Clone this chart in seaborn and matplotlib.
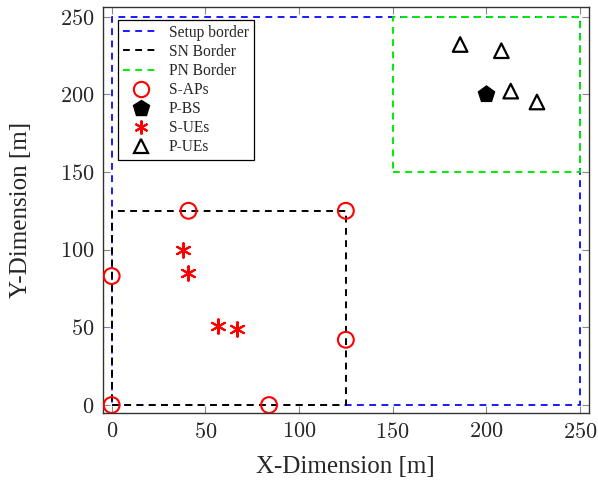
import matplotlib
matplotlib.use("Agg")
import matplotlib.pyplot as plt
import seaborn as sns
import pandas as pd
from matplotlib.lines import Line2D

sns.set_theme(style="white")
plt.rcParams['font.family'] = ['cmr10', 'DejaVu Serif']
plt.rcParams['mathtext.fontset'] = 'cm'
plt.rcParams['axes.formatter.use_mathtext'] = True

TIMES = ['Liberation Serif', 'DejaVu Serif']

# Borders (rectangle corners)
setup_x = [0, 250, 250, 0, 0]
setup_y = [0, 0, 250, 250, 0]
sn_x = [0, 125, 125, 0, 0]
sn_y = [0, 0, 125, 125, 0]
pn_x = [150, 250, 250, 150, 150]
pn_y = [150, 150, 250, 250, 150]

# Nodes
sap_x = [0, 0, 41, 125, 125, 84]
sap_y = [0, 83, 125, 125, 42, 0]
pbs_x = [200]
pbs_y = [200]
sue_x = [38, 41, 57, 67]
sue_y = [100, 85, 51, 49]
pue_x = [186, 208, 213, 227]
pue_y = [232, 228, 202, 195]

ticks = [0, 50, 100, 150, 200, 250]

DASH = (0, (3.5, 2.8))

fig = plt.figure(figsize=(5.98, 4.80), dpi=100)
ax = fig.add_axes([0.1717, 0.139, 0.8133, 0.846])

def border(xs, ys, color):
    df = pd.DataFrame({"x": xs, "y": ys})
    sns.lineplot(data=df, x="x", y="y", sort=False, estimator=None, ax=ax,
                 color=color, lw=1.4, linestyle=DASH)

border(setup_x, setup_y, "#1a1aff")
border(sn_x, sn_y, "black")
border(pn_x, pn_y, "#00ee00")

sns.scatterplot(x=sap_x, y=sap_y, ax=ax, marker="o", s=130, facecolors="none",
                edgecolor="red", linewidth=1.5, zorder=5)
sns.scatterplot(x=pbs_x, y=pbs_y, ax=ax, marker="p", s=150, color="black",
                edgecolor="black", linewidth=1, zorder=5)
sns.scatterplot(x=sue_x, y=sue_y, ax=ax, marker=(6, 2, 0), s=110, color="red",
                edgecolor="red", linewidth=1.5, zorder=5)
sns.scatterplot(x=pue_x, y=pue_y, ax=ax, marker="^", s=110, facecolors="none",
                edgecolor="black", linewidth=1.6, zorder=5)

ax.set_xlim(-4.8, 254.8)
ax.set_ylim(-5.3, 256)
ax.set_xticks(ticks)
ax.set_yticks(ticks)
ax.tick_params(direction="in", length=5, width=0.8, color="#888888",
               top=True, right=True, bottom=True, left=True, labelsize=16,
               pad=6)
for s in ax.spines.values():
    s.set_color("#333333")
    s.set_linewidth(1.0)
ax.set_xlabel("X-Dimension [m]", fontsize=18, labelpad=10, family=TIMES)
ax.set_ylabel("Y-Dimension [m]", fontsize=18, labelpad=20, family=TIMES)

handles = [
    Line2D([], [], color="#1a1aff", lw=1.4, linestyle=DASH),
    Line2D([], [], color="black", lw=1.4, linestyle=DASH),
    Line2D([], [], color="#00ee00", lw=1.4, linestyle=DASH),
    Line2D([], [], ls="none", marker="o", ms=11, mfc="none", mec="red", mew=1.5),
    Line2D([], [], ls="none", marker="p", ms=12, mfc="black", mec="black"),
    Line2D([], [], ls="none", marker=(6, 2, 0), ms=10, mfc="red", mec="red", mew=1.5),
    Line2D([], [], ls="none", marker="^", ms=10, mfc="none", mec="black", mew=1.6),
]
labels = ["Setup border", "SN Border", "PN Border", "S-APs", "P-BS", "S-UEs", "P-UEs"]
leg = ax.legend(handles, labels, loc="upper left", bbox_to_anchor=(0.0315, 0.969),
                prop={"family": TIMES, "size": 11.2}, frameon=True, fancybox=False,
                framealpha=1, edgecolor="black", borderpad=0.32, labelspacing=0.2,
                handlelength=2.3, handletextpad=0.64, borderaxespad=0)
leg.get_frame().set_linewidth(0.9)

fig.savefig("out.png", dpi=100)
